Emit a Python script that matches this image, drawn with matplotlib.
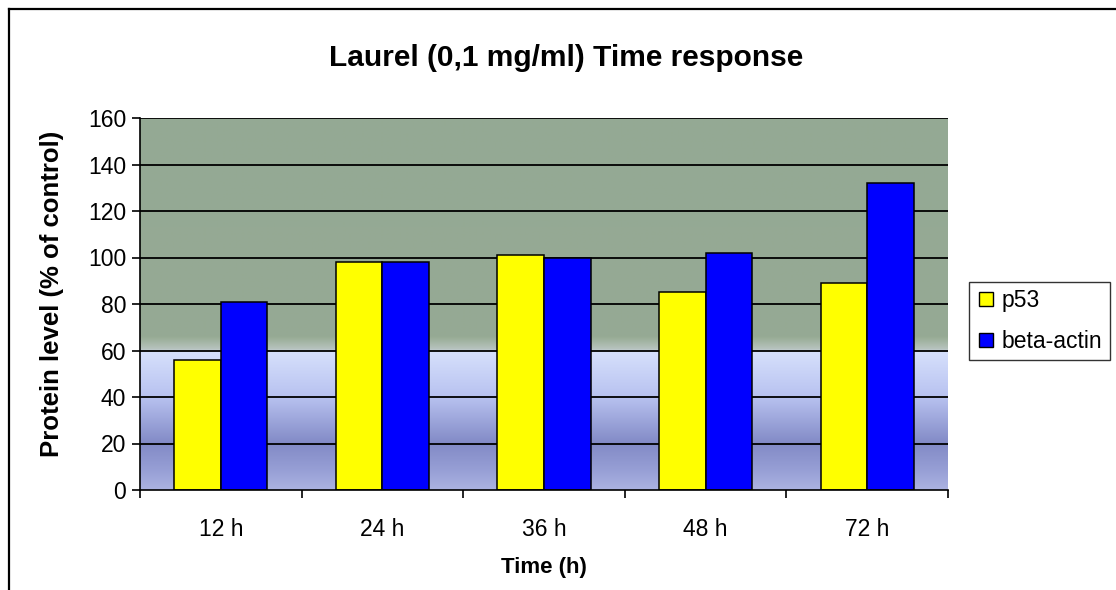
import numpy as np
import matplotlib
matplotlib.use("Agg")
import matplotlib.pyplot as plt
from matplotlib.lines import Line2D

plt.rcParams['font.family'] = ['Liberation Sans', 'DejaVu Sans']

categories = ["12 h", "24 h", "36 h", "48 h", "72 h"]
p53 = [56, 98, 101, 85, 89]
beta_actin = [81, 98, 100, 102, 132]
yticks = [0, 20, 40, 60, 80, 100, 120, 140, 160]

W, H = 1116, 590
fig = plt.figure(figsize=(W/100, H/100), dpi=100)
ax = fig.add_axes([140/W, 100/H, 808/W, 372/H])

# background gradient (value -> colour stops)
stops_v = [0, 8, 20, 40, 59.5, 60.5, 64, 66, 160]
stops_c = np.array([
    [0xAC, 0xB3, 0xE2],
    [0x98, 0xA0, 0xD6],
    [0x82, 0x8A, 0xC6],
    [0xB8, 0xC2, 0xF0],
    [0xD6, 0xE0, 0xFC],
    [0xB8, 0xC4, 0xC0],
    [0xA2, 0xB4, 0xA2],
    [0x96, 0xAA, 0x94],
    [0x94, 0xA9, 0x94],
]) / 255.0
vv = np.linspace(0, 160, 800)
img = np.stack([np.interp(vv, stops_v, stops_c[:, k]) for k in range(3)], axis=1)
img = np.repeat(img[:, None, :], 2, axis=1)
ax.imshow(img, origin='lower', extent=[-0.5, len(categories) - 0.5, 0, 160],
          aspect='auto', zorder=0, interpolation='bilinear')

x = np.arange(len(categories))
w = 0.288
ax.bar(x - w/2, p53, width=w, color='#FFFF00', edgecolor='black', linewidth=1.1, zorder=3, label='p53')
ax.bar(x + w/2, beta_actin, width=w, color='#0000FF', edgecolor='black', linewidth=1.1, zorder=3, label='beta-actin')

ax.set_xlim(-0.5, len(categories) - 0.5)
ax.set_ylim(0, 160)
ax.set_yticks(yticks)
ax.set_yticklabels([str(t) for t in yticks], fontsize=16.5)
for t in yticks[1:]:
    ax.axhline(t, color='black', linewidth=1.3, zorder=1)

ax.set_xticks(x)
ax.set_xticklabels(categories, fontsize=16.5)
ax.tick_params(axis='x', length=0, pad=20)
ax.set_xticks(np.arange(-0.5, len(categories)), minor=True)
ax.tick_params(axis='x', which='minor', length=6, width=1.2, direction='out')
ax.tick_params(axis='y', length=6, width=1.2, direction='out', pad=4)

for s in ['top', 'right']:
    ax.spines[s].set_visible(False)
for s in ['left', 'bottom']:
    ax.spines[s].set_linewidth(1.2)
    ax.spines[s].set_zorder(5)

fig.text(566/W, 1 - 58/H, "Laurel (0,1 mg/ml) Time response", fontsize=21.5,
         fontweight='bold', ha='center', va='center')
fig.text(52/W, 1 - 294/H, "Protein level (% of control)", fontsize=18.5,
         fontweight='bold', ha='center', va='center', rotation=90)
fig.text(544/W, 1 - 568/H, "Time (h)", fontsize=16, fontweight='bold', ha='center', va='center')

handles = [Line2D([0], [0], marker='s', linestyle='none', markersize=10, markerfacecolor='#FFFF00',
                  markeredgecolor='black', markeredgewidth=1.0),
           Line2D([0], [0], marker='s', linestyle='none', markersize=10, markerfacecolor='#0000FF',
                  markeredgecolor='black', markeredgewidth=1.0)]
leg = fig.legend(handles, ['p53', 'beta-actin'], loc='upper left',
                 bbox_to_anchor=(969/W, 1 - 282/H), fontsize=16.5, frameon=True,
                 fancybox=False, edgecolor='black', handletextpad=0.3, borderpad=0.32,
                 labelspacing=0.75, handlelength=0.8, borderaxespad=0)
leg.get_frame().set_linewidth(1.0)

# figure border (left and top)
fig.add_artist(Line2D([8.5/W, 8.5/W], [0, 1 - 8.5/H], color='black', linewidth=1.6,
                      transform=fig.transFigure))
fig.add_artist(Line2D([8.5/W, 1], [1 - 8.5/H, 1 - 8.5/H], color='black', linewidth=1.6,
                      transform=fig.transFigure))

fig.savefig("out.png", dpi=100)
